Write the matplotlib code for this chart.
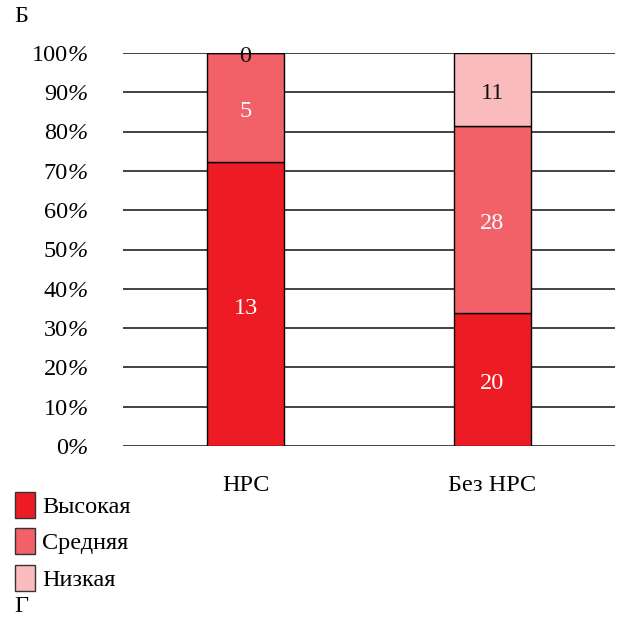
import matplotlib
matplotlib.use('Agg')
import matplotlib.pyplot as plt
import matplotlib.transforms as mtransforms
from matplotlib.patches import Patch

plt.rcParams['font.family'] = 'Liberation Serif'

groups = ['НРС', 'Без НРС']
levels = ['Высокая', 'Средняя', 'Низкая']
high = [13, 20]
medium = [5, 28]
low = [0, 11]
colors = ['#ED1C24', '#F26068', '#F9BBBC']
label_colors = ['white', 'white', '#111111']
yticks = list(range(0, 101, 10))

counts = [high, medium, low]
totals = [sum(c) for c in zip(*counts)]
fs = 17.5

fig = plt.figure(figsize=(6.21, 6.19), dpi=100)
ax = fig.add_axes([123 / 621, 1 - 446 / 619, (615 - 123) / 621, (446 - 53) / 619])

x = range(len(groups))
bottom = [0.0] * len(groups)
for vals, col, lcol in zip(counts, colors, label_colors):
    shares = [v / t * 100 for v, t in zip(vals, totals)]
    ax.bar(x, shares, width=0.312, bottom=bottom, color=col,
           edgecolor='black', linewidth=1, zorder=3)
    for i, (v, s) in enumerate(zip(vals, shares)):
        ypos = bottom[i] + s / 2 - 1.0
        if s == 0:
            ypos = bottom[i] - 1.0
        ax.text(i, ypos, str(v), ha='center', va='center', fontsize=fs,
                color=lcol, zorder=4)
    bottom = [b + s for b, s in zip(bottom, shares)]

ax.set_ylim(0, 100)
ax.set_xlim(-0.496, 1.496)
ax.set_yticks(yticks)
ax.set_yticklabels([])
ax.set_xticks(list(x))
ax.set_xticklabels(groups, fontsize=fs)
ax.tick_params(length=0)
ax.tick_params(axis='x', pad=21)
ax.yaxis.grid(True, color='#222222', linewidth=1.2, zorder=0)
ax.set_axisbelow(True)
for s in ax.spines.values():
    s.set_visible(False)

# y labels: upright number followed by an italic percent sign
trans = mtransforms.blended_transform_factory(fig.transFigure, ax.transData)
for t in yticks:
    ax.text(68 / 621, t - 0.6, str(t), transform=trans, ha='right', va='center',
            fontsize=fs)
    ax.text(68 / 621, t - 0.6, '%', transform=trans, ha='left', va='center',
            fontsize=fs, style='italic')

handles = [Patch(facecolor=c, edgecolor='#333333', linewidth=1) for c in colors]
fig.legend(handles, levels, loc='upper left', bbox_to_anchor=(15 / 621, 1 - 492 / 619),
           frameon=False, fontsize=fs, handlelength=0.82, handleheight=1.25,
           handletextpad=0.3, labelspacing=0.43, borderaxespad=0,
           borderpad=0)

fig.text(14 / 621, 1 - 17 / 619, 'Б', fontsize=fs, va='center', ha='left')
fig.text(14 / 621, 1 - 607 / 619, 'Г', fontsize=fs, va='center', ha='left')

fig.savefig('out.png', dpi=100, facecolor='white')
